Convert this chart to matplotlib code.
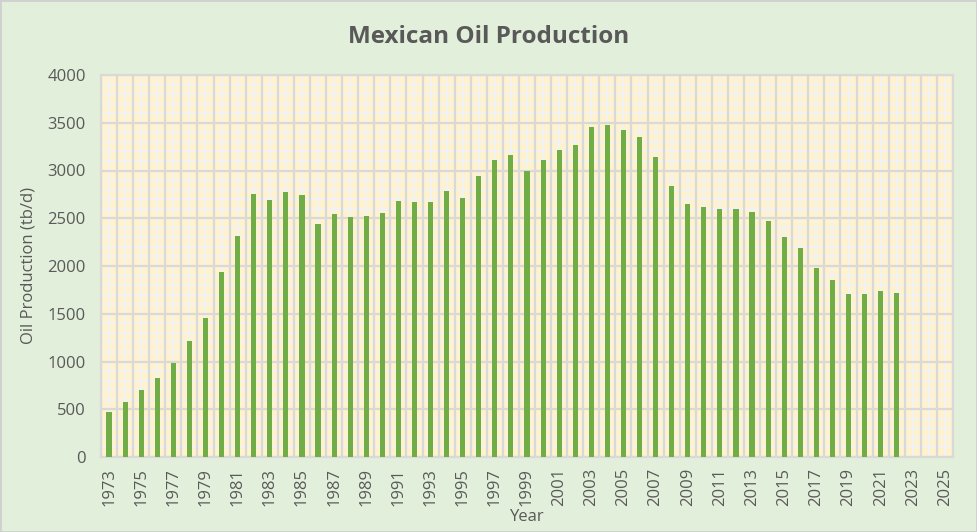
import numpy as np
import matplotlib.pyplot as plt
from matplotlib.patches import Rectangle

years = list(range(1973, 2026))
# thousand barrels per day (no data for 2023-2025)
production = [470, 575, 700, 830, 985, 1210, 1460, 1940, 2310, 2750,
              2690, 2780, 2745, 2435, 2545, 2513, 2524, 2555, 2680, 2670,
              2670, 2785, 2712, 2942, 3110, 3162, 2995, 3110, 3215, 3267,
              3455, 3476, 3424, 3351, 3141, 2838, 2649, 2618, 2597, 2597,
              2565, 2471, 2304, 2188, 1979, 1853, 1707, 1707, 1738, 1717,
              np.nan, np.nan, np.nan]
tick_labels = [str(y) if (y - 1973) % 2 == 0 else '' for y in years]

plt.rcParams['font.family'] = ['Open Sans', 'DejaVu Sans']
txt = '#595959'
grid_major = '#D9D9D9'
grid_minor = '#F2F2F2'

fig = plt.figure(figsize=(9.77, 5.32), dpi=100, facecolor='#E2EFDA')
fig.patches.append(Rectangle((0, 0), 1, 1, transform=fig.transFigure,
                             fill=False, edgecolor='#D0D0D0', linewidth=2))
ax = fig.add_axes([101/977, 75/532, 852/977, 382/532])
ax.set_facecolor('#FFF2CC')

x = np.arange(len(years))
ax.bar(x, production, width=0.32, color='#70AD47', zorder=3)

ax.set_xlim(-0.5, len(years) - 0.5)
ax.set_ylim(0, 4000)

# vertical: gray lines between categories, white lines at category centres
ax.set_xticks(np.arange(len(years) + 1) - 0.5)
ax.set_xticklabels([])
ax.set_xticks(x, minor=True)
ax.set_xticklabels(tick_labels, minor=True, rotation=90, color=txt, fontsize=12)
ax.set_yticks(np.arange(0, 4001, 500))
ax.set_yticks(np.arange(0, 4001, 100), minor=True)
ax.tick_params(axis='y', which='major', labelsize=12, labelcolor=txt, length=0, pad=11)
ax.tick_params(axis='both', which='both', length=0)
ax.tick_params(axis='x', which='minor', pad=8)

# minor grid drawn underneath so the gray major lines stay unbroken
ax.vlines(ax.get_xticks(minor=True), 0, 4000, color=grid_minor, linewidth=1.6, zorder=1)
ax.hlines(ax.get_yticks(minor=True), -0.5, len(years) - 0.5, color=grid_minor,
          linewidth=1.6, zorder=1)
ax.set_axisbelow('line')
ax.grid(which='major', color=grid_major, linewidth=1.6)

for s in ax.spines.values():
    s.set_color(grid_major)
    s.set_linewidth(1.6)

ax.set_ylabel('Oil Production (tb/d)', fontsize=12, color=txt, labelpad=8)
ax.set_xlabel('Year', fontsize=12, color=txt, labelpad=2)
fig.text(0.5, 1 - 37/532, 'Mexican Oil Production', ha='center', va='center',
         fontsize=17.5, fontweight='bold', color=txt)

fig.savefig('out.png', dpi=100, facecolor=fig.get_facecolor())
